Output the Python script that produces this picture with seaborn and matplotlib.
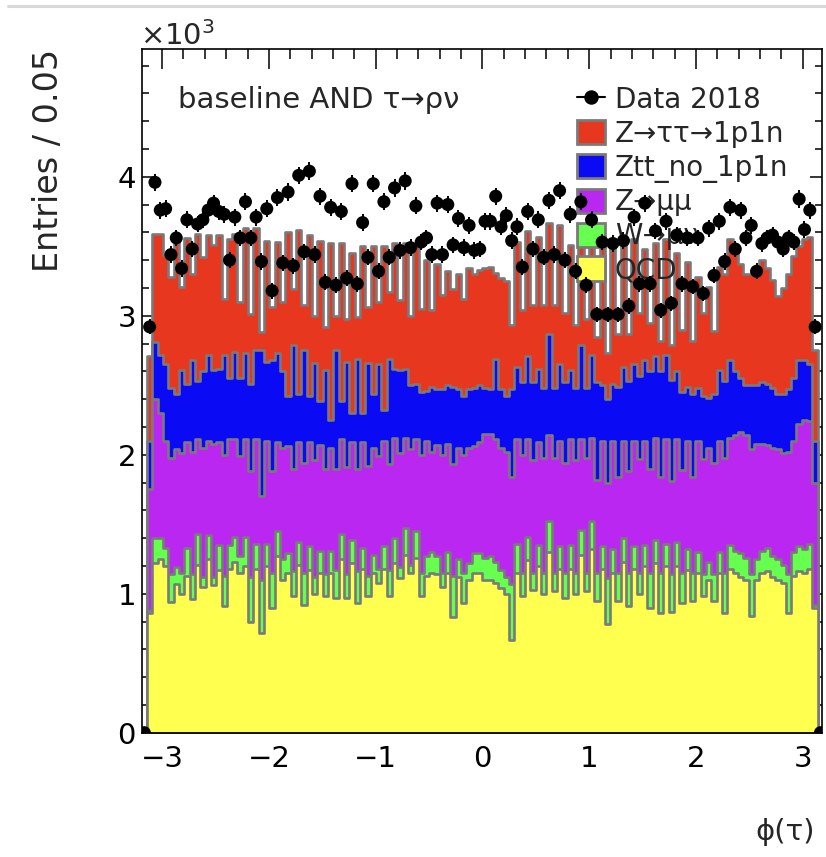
import numpy as np
import pandas as pd
import matplotlib
matplotlib.use("Agg")
import matplotlib.pyplot as plt
import seaborn as sns
from matplotlib.lines import Line2D
from matplotlib.patches import Patch
from matplotlib.ticker import MultipleLocator, FuncFormatter

# ---- binning: 126 bins over [-pi, pi] ----
N_BINS = 126
edges = np.linspace(-np.pi, np.pi, N_BINS + 1)
centers = 0.5 * (edges[:-1] + edges[1:])
bin_w = edges[1] - edges[0]

# ---- observed events per bin ----
data_2018 = [
    2920, 3960, 3760, 3770, 3440, 3560, 3340, 3690, 3480, 3660,
    3690, 3760, 3810, 3750, 3730, 3400, 3710, 3560, 3820, 3560,
    3710, 3390, 3770, 3180, 3850, 3380, 3890, 3360, 4010, 3460,
    4040, 3440, 3860, 3240, 3780, 3220, 3750, 3270, 3950, 3230,
    3670, 3420, 3950, 3320, 3820, 3420, 3920, 3470, 3970, 3490,
    3790, 3530, 3560, 3440, 3810, 3440, 3800, 3510, 3700, 3490,
    3650, 3470, 3480, 3680, 3680, 3860, 3640, 3720, 3540, 3640,
    3350, 3750, 3480, 3690, 3420, 3830, 3440, 3900, 3400, 3730,
    3320, 3820, 3220, 3690, 3010, 3530, 3010, 3520, 3010, 3540,
    3070, 3710, 3230, 3810, 3230, 3610, 3040, 3680, 3090, 3580,
    3230, 3560, 3210, 3560, 3160, 3630, 3290, 3680, 3390, 3780,
    3480, 3760, 3560, 3650, 3320, 3520, 3560, 3580, 3530, 3480,
    3560, 3530, 3840, 3620, 3760, 2920,
]
data_underflow = 0
data_overflow = 0

# ---- expected events per process ----
qcd = [
    860, 1220, 1250, 1200, 940, 1070, 1000, 1130, 960, 1210,
    1050, 1250, 1060, 1170, 910, 1180, 1230, 1150, 1200, 800,
    1180, 720, 1200, 900, 1270, 1100, 1150, 980, 1210, 920,
    1170, 1000, 1150, 980, 1150, 970, 1250, 970, 1220, 930,
    1180, 980, 1150, 1080, 1180, 980, 1220, 1110, 1280, 1150,
    1260, 980, 1130, 1150, 1140, 1050, 1150, 830, 1120, 930,
    1100, 1150, 1150, 1100, 1100, 1080, 1040, 1000, 670, 1150,
    980, 1240, 1030, 1200, 1000, 1300, 1020, 1180, 970, 1180,
    1000, 1280, 1020, 1320, 950, 1180, 780, 1150, 950, 1230,
    910, 1180, 1000, 1200, 900, 1220, 860, 1200, 870, 1200,
    930, 1170, 950, 1150, 980, 1100, 950, 1150, 860, 1180,
    1150, 1120, 1100, 840, 1100, 1150, 1160, 1120, 1100, 1080,
    860, 1130, 1160, 1150, 1180, 900,
]
w_lnu = [
    20, 180, 150, 130, 200, 120, 150, 200, 180, 220,
    70, 170, 60, 180, 220, 170, 180, 120, 210, 320,
    180, 380, 160, 250, 180, 150, 140, 180, 160, 230,
    170, 120, 160, 160, 160, 200, 180, 170, 170, 230,
    150, 150, 130, 100, 160, 190, 180, 80, 190, 60,
    190, 170, 140, 150, 130, 100, 150, 300, 130, 220,
    120, 140, 140, 160, 170, 150, 130, 120, 400, 210,
    170, 170, 120, 150, 150, 220, 130, 160, 180, 170,
    150, 180, 130, 200, 200, 160, 330, 170, 200, 170,
    240, 160, 150, 150, 250, 170, 290, 160, 270, 170,
    220, 150, 200, 150, 160, 130, 190, 150, 290, 170,
    160, 170, 160, 300, 150, 160, 170, 150, 150, 130,
    280, 170, 180, 170, 180, 20,
]
z_mumu = [
    870, 1000, 900, 770, 840, 850, 860, 760, 880, 680,
    930, 680, 960, 740, 870, 760, 700, 720, 700, 760,
    750, 600, 740, 730, 640, 800, 770, 740, 720, 790,
    750, 840, 760, 760, 740, 730, 680, 770, 700, 740,
    760, 790, 770, 810, 760, 760, 720, 820, 650, 830,
    660, 850, 830, 720, 800, 850, 780, 800, 800, 850,
    830, 770, 800, 890, 880, 880, 880, 900, 770, 750,
    850, 700, 810, 740, 830, 620, 830, 760, 790, 760,
    810, 650, 830, 600, 670, 760, 690, 780, 690, 700,
    730, 760, 820, 750, 750, 730, 690, 750, 670, 740,
    740, 780, 690, 800, 830, 820, 800, 800, 830, 770,
    830, 870, 880, 900, 830, 770, 740, 780, 790, 800,
    880, 800, 880, 930, 880, 880,
]
ztt_no_1p1n = [
    350, 410, 420, 550, 500, 400, 600, 420, 660, 420,
    550, 620, 530, 530, 720, 440, 630, 560, 620, 630,
    640, 1050, 570, 800, 640, 550, 360, 890, 350, 810,
    330, 700, 320, 710, 200, 850, 280, 760, 210, 790,
    210, 740, 390, 660, 220, 760, 500, 600, 500, 460,
    400, 450, 360, 470, 400, 470, 420, 560, 420, 420,
    420, 420, 410, 330, 320, 580, 420, 400, 630, 520,
    520, 600, 560, 530, 500, 730, 500, 550, 580, 500,
    520, 680, 500, 600, 700, 400, 600, 410, 650, 530,
    650, 550, 600, 580, 700, 590, 760, 610, 730, 490,
    560, 390, 600, 380, 450, 360, 500, 510, 550, 560,
    460, 390, 360, 460, 420, 440, 440, 430, 400, 430,
    450, 450, 460, 430, 410, 300,
]
ztt_1p1n = [
    610, 780, 870, 790, 800, 1130, 600, 1050, 620, 1060,
    820, 860, 900, 960, 400, 1000, 850, 550, 900, 500,
    880, 130, 870, 380, 800, 500, 1180, 400, 1180, 330,
    1160, 340, 1150, 310, 1270, 250, 1130, 310, 1150, 300,
    1200, 400, 1060, 450, 1180, 480, 900, 500, 900, 500,
    1000, 600, 940, 550, 900, 680, 820, 700, 830, 700,
    870, 820, 830, 860, 880, 620, 800, 830, 460, 900,
    520, 900, 560, 950, 600, 800, 600, 1000, 500, 900,
    450, 850, 500, 900, 330, 1000, 330, 1000, 380, 900,
    340, 900, 450, 800, 350, 810, 220, 830, 250, 850,
    450, 900, 380, 800, 600, 800, 450, 740, 770, 870,
    900, 820, 800, 800, 850, 880, 830, 780, 700, 760,
    830, 880, 820, 870, 920, 650,
]

# draw order: tallest cumulative level first, QCD last (bottom of the stack)
processes = [
    ("Z\u2192\u03c4\u03c4\u21921p1n", ztt_1p1n, "#e8371f"),
    ("Ztt_no_1p1n", ztt_no_1p1n, "#0a0af5"),
    ("Z\u2192\u03bc\u03bc", z_mumu, "#b927f0"),
    ("W\u2192\u03bc\u03bd", w_lnu, "#66ff4f"),
    ("QCD", qcd, "#ffff4f"),
]
OUTLINE = "#7a7a7a"

sns.set_theme(style="ticks")
plt.rcParams["font.family"] = ["DejaVu Sans"]
plt.rcParams["mathtext.fontset"] = "dejavusans"

fig = plt.figure(figsize=(8.26, 8.57), dpi=100)
ax = fig.add_axes([141.5 / 826, 1 - 732.7 / 857, (822 - 141.5) / 826, (732.7 - 49.3) / 857])

# cumulative stack levels, bottom (QCD) to top
bottom_up = [np.asarray(p[1], float) for p in processes[::-1]]
levels = np.cumsum(bottom_up, axis=0)[::-1]
bin_list = edges.tolist()

for (label, _, color), level in zip(processes, levels):
    frame = pd.DataFrame({"phi": centers, "entries": level})
    sns.histplot(data=frame, x="phi", weights="entries", bins=bin_list, element="step",
                 fill=True, color=color, alpha=1.0, edgecolor=OUTLINE, linewidth=1.9,
                 ax=ax, zorder=2)

# data with Poisson errors, including the under/overflow points at the edges
data = np.asarray(data_2018, float)
x_pts = np.concatenate([[edges[0] - bin_w / 2], centers, [edges[-1] + bin_w / 2]])
y_pts = np.concatenate([[data_underflow], data, [data_overflow]])
ax.errorbar(x_pts, y_pts, yerr=np.sqrt(y_pts), fmt="none", ecolor="black",
            elinewidth=1.4, capsize=0, zorder=9)
sns.scatterplot(x=x_pts, y=y_pts, color="black", s=88, edgecolor="none",
                ax=ax, zorder=10, legend=False)

ax.set_xlim(-3.193, 3.181)
ax.set_ylim(0, 4917)

ax.xaxis.set_major_locator(MultipleLocator(1))
ax.xaxis.set_minor_locator(MultipleLocator(0.2))
ax.yaxis.set_major_locator(MultipleLocator(1000))
ax.yaxis.set_minor_locator(MultipleLocator(200))
ax.yaxis.set_major_formatter(FuncFormatter(lambda v, p: f"{v / 1000:g}"))
ax.xaxis.set_major_formatter(FuncFormatter(lambda v, p: f"{v:g}".replace("-", "\u2212")))

ax.tick_params(axis="both", which="both", direction="in", top=True, right=True,
               width=1.1, colors="black", labelsize=21)
ax.tick_params(axis="x", which="major", length=14.5, pad=9)
ax.tick_params(axis="x", which="minor", length=7.2)
ax.tick_params(axis="y", which="major", length=8.6, pad=4)
ax.tick_params(axis="y", which="minor", length=4.8)
for s in ax.spines.values():
    s.set_linewidth(1.2)
    s.set_color("black")

ax.set_ylabel("Entries / 0.05", fontsize=24, loc="top")
ax.yaxis.set_label_coords(-0.112, 1.0)
ax.set_xlabel("\u03d5(\u03c4)", fontsize=21, loc="right")
ax.xaxis.set_label_coords(0.99, -0.125)

fig.text(140 / 826, 1 - 45 / 857, r"$\times10^{3}$", fontsize=21, ha="left", va="baseline")

ax.text(178 / 826, 1 - 100 / 857, "baseline AND \u03c4\u2192\u03c1\u03bd", fontsize=21,
        ha="left", va="center", transform=fig.transFigure, zorder=4)

handles = [Line2D([], [], color="black", lw=1.5, marker="o", markersize=9.4)]
labels = ["Data 2018"]
for label, _, color in processes:
    handles.append(Patch(facecolor=color, edgecolor=OUTLINE, linewidth=2))
    labels.append(label)
leg = ax.legend(handles, labels, loc="upper left", bbox_to_anchor=(577 / 826, 1 - 86 / 857),
                bbox_transform=fig.transFigure, frameon=False, fontsize=20,
                handlelength=1.0, handleheight=0.97, handletextpad=0.36,
                labelspacing=0.21, borderpad=0, borderaxespad=0)
leg.set_zorder(5)

# thin separator line along the top of the canvas
fig.add_artist(Line2D([8 / 826, 1], [1 - 5.5 / 857, 1 - 5.5 / 857], color="#d8d8d8",
                      lw=2.2, transform=fig.transFigure))

fig.savefig("out.png", dpi=100)
